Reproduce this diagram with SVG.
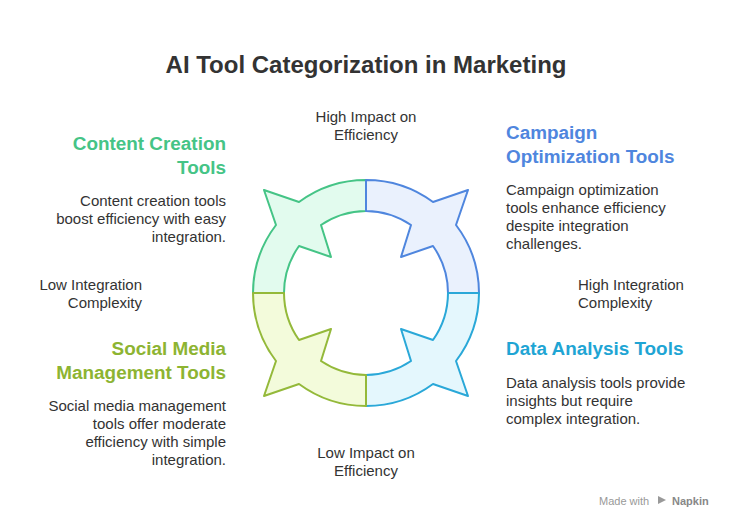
<svg xmlns="http://www.w3.org/2000/svg" width="732" height="528" viewBox="0 0 732 528">
<style>
text{font-family:"Liberation Sans",Arial,sans-serif;fill:#333}
.t{font-size:24px;font-weight:bold;text-anchor:middle}
.h{font-size:18.9px;font-weight:bold}
.b{font-size:15px}
.m{text-anchor:middle}
.e{text-anchor:end}
.q{stroke-width:2;stroke-linejoin:round}
</style>
<defs>
<path id="seg" d="M-113,0 A113,113 0 0 1 -90,-68 L-102,-103 L-67,-91 A113,113 0 0 1 0,-113 L0,-82 A82,82 0 0 0 -45,-68 L-35,-36 L-67,-47 A82,82 0 0 0 -82,0 Z"/>
</defs>
<rect width="732" height="528" fill="#fff"/>
<text class="t" x="366" y="73">AI Tool Categorization in Marketing</text>
<g id="connectors"></g>
<g id="content-creation">
<use href="#seg" class="q" transform="translate(366,293)" fill="#e2fbee" stroke="#45c486"/>
<text class="h e" x="226" y="150" style="fill:#45c486">Content Creation</text>
<text class="h e" x="226" y="174" style="fill:#45c486">Tools</text>
<text class="b e" x="226" y="206">Content creation tools</text>
<text class="b e" x="226" y="224">boost efficiency with easy</text>
<text class="b e" x="226" y="242">integration.</text>
</g>
<g id="campaign-optimization">
<use href="#seg" class="q" transform="translate(366,293) scale(-1,1)" fill="#eaf1fd" stroke="#4f86de"/>
<text class="h" x="506" y="139" style="fill:#4f86de">Campaign</text>
<text class="h" x="506" y="163" style="fill:#4f86de">Optimization Tools</text>
<text class="b" x="506" y="195">Campaign optimization</text>
<text class="b" x="506" y="213">tools enhance efficiency</text>
<text class="b" x="506" y="231">despite integration</text>
<text class="b" x="506" y="249">challenges.</text>
</g>
<g id="data-analysis">
<use href="#seg" class="q" transform="translate(366,293) scale(-1,-1)" fill="#e4f7fd" stroke="#2aa8d8"/>
<text class="h" x="506" y="355" style="fill:#1fa5d4">Data Analysis Tools</text>
<text class="b" x="506" y="388">Data analysis tools provide</text>
<text class="b" x="506" y="406">insights but require</text>
<text class="b" x="506" y="424">complex integration.</text>
</g>
<g id="social-media">
<use href="#seg" class="q" transform="translate(366,293) scale(1,-1)" fill="#f3fbdb" stroke="#94b93a"/>
<text class="h e" x="226" y="355" style="fill:#8db432">Social Media</text>
<text class="h e" x="226" y="379" style="fill:#8db432">Management Tools</text>
<text class="b e" x="226" y="411">Social media management</text>
<text class="b e" x="226" y="429">tools offer moderate</text>
<text class="b e" x="226" y="447">efficiency with simple</text>
<text class="b e" x="226" y="465">integration.</text>
</g>
<g id="axes">
<text class="b m" x="366" y="122">High Impact on</text>
<text class="b m" x="366" y="140">Efficiency</text>
<text class="b m" x="366" y="458">Low Impact on</text>
<text class="b m" x="366" y="476">Efficiency</text>
<text class="b e" x="142" y="290">Low Integration</text>
<text class="b e" x="142" y="308">Complexity</text>
<text class="b" x="578" y="290">High Integration</text>
<text class="b" x="578" y="308">Complexity</text>
</g>
<text x="599" y="505" style="font-size:11px;fill:#999">Made with</text>
<text x="672" y="505" style="font-size:11px;fill:#888;font-weight:bold">Napkin</text>
<path d="M658,496 l8,4 l-8,4 z" fill="#999"/>
</svg>
